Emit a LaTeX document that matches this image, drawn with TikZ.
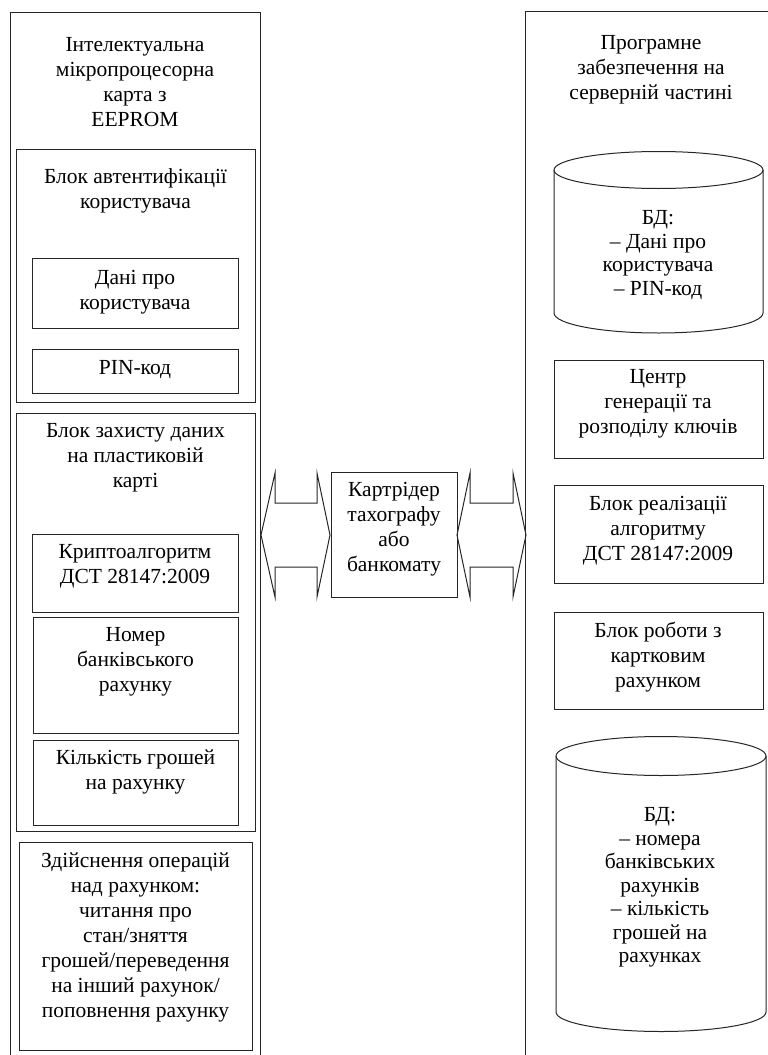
\documentclass[tikz,border=0pt]{standalone}
\usepackage{fontspec}
\setmainfont{Liberation Serif}
\begin{document}
\begin{tikzpicture}[x=1pt,y=-1pt,
  ln/.style={draw=black!85, line width=1pt},
  box/.style={ln, rectangle, inner sep=0pt, outer sep=0pt, anchor=north west},
  txt/.style={align=center, inner sep=0pt, font=\fontsize{21.5}{25}\selectfont},
  dbtxt/.style={align=center, inner sep=0pt, font=\fontsize{21.5}{23.5}\selectfont}]
\useasboundingbox (0,0) rectangle (768,1055);
% outer frames
\draw[ln] (10,1060) -- (10,12) -- (260,12) -- (260,1060);
\draw[ln] (525,1060) -- (525,11) -- (775,11);
% left boxes
\node[box, minimum width=239pt, minimum height=253pt] (auth) at (16,149) {};
\node[box, minimum width=206pt, minimum height=70pt] (dani) at (32,258) {};
\node[box, minimum width=206pt, minimum height=44pt] (pin) at (32,349) {};
\node[box, minimum width=239pt, minimum height=418pt] (prot) at (16,413) {};
\node[box, minimum width=206pt, minimum height=78pt] (crypto) at (32,534) {};
\node[box, minimum width=205pt, minimum height=116pt] (nomer) at (33,617) {};
\node[box, minimum width=205pt, minimum height=85pt] (kilk) at (33,740) {};
\node[box, minimum width=233pt, minimum height=208pt] (ops) at (19,842) {};
% centre
\node[box, minimum width=126pt, minimum height=125pt] (reader) at (331,472) {};
% right boxes
\node[box, minimum width=209pt, minimum height=98pt] (centr) at (554,360) {};
\node[box, minimum width=209pt, minimum height=98pt] (real) at (554,485) {};
\node[box, minimum width=209pt, minimum height=97pt] (rob) at (554,612) {};
% cylinders
\draw[ln] (554,170) arc[start angle=180, end angle=-180, x radius=104.5, y radius=18.5];
\draw[ln] (554,170) -- (554,313) arc[start angle=180, end angle=360, x radius=104.5, y radius=-20] -- (763,170);
\draw[ln] (556,756) arc[start angle=180, end angle=-180, x radius=105, y radius=19.5];
\draw[ln] (556,756) -- (556,1012) arc[start angle=180, end angle=360, x radius=105, y radius=-19.5] -- (766,756);
% block arrows
\draw[ln] (261,535) -- (275,473) -- (275,503) -- (317,503) -- (317,473) -- (330,535)
  -- (317,597) -- (317,567) -- (275,567) -- (275,597) -- cycle;
\draw[ln] (457,535) -- (470,473) -- (470,503) -- (513,503) -- (513,473) -- (526,535)
  -- (513,597) -- (513,567) -- (470,567) -- (470,597) -- cycle;
% texts
\node[txt] (tl) at (135,82.5) {Інтелектуальна\\мікропроцесорна\\карта з\\EEPROM};
\node[txt] (tr) at (651,70) {Програмне\\забезпечення на\\серверній частині};
\node[txt] (tauth) at (135.5,191) {Блок автентифікації\\користувача};
\node[txt] (tdani) at (135,292.5) {Дані про\\користувача};
\node[txt] (tpin) at (135,370) {PIN-код};
\node[txt] (tprot) at (135.5,457.5) {Блок захисту даних\\на пластиковій\\карті};
\node[txt] (tcrypto) at (135,566) {Криптоалгоритм\\ДСТ 28147:2009};
\node[txt] (tnomer) at (135.5,662) {Номер\\банківського\\рахунку};
\node[txt] (tkilk) at (135.5,771.5) {Кількість грошей\\на рахунку};
\node[txt] (tops) at (135.5,937.5) {Здійснення операцій\\над рахунком:\\читання про\\стан/зняття\\грошей/переведення\\на інший рахунок/\\поповнення рахунку};
\node[txt] (treader) at (394,529.5) {Картрідер\\тахографу\\або\\банкомату};
\node[txt] (tcentr) at (658,404) {Центр\\генерації та\\розподілу ключів};
\node[txt] (treal) at (658,531) {Блок реалізації\\алгоритму\\ДСТ 28147:2009};
\node[txt] (trob) at (658,657) {Блок роботи з\\картковим\\рахунком};
\node[dbtxt] (db1) at (658,255) {БД:\\– Дані про\\користувача\\– PIN-код};
\node[dbtxt] (db2) at (660,887.5) {БД:\\– номера\\банківських\\рахунків\\– кількість\\грошей на\\рахунках};
\end{tikzpicture}
\end{document}
